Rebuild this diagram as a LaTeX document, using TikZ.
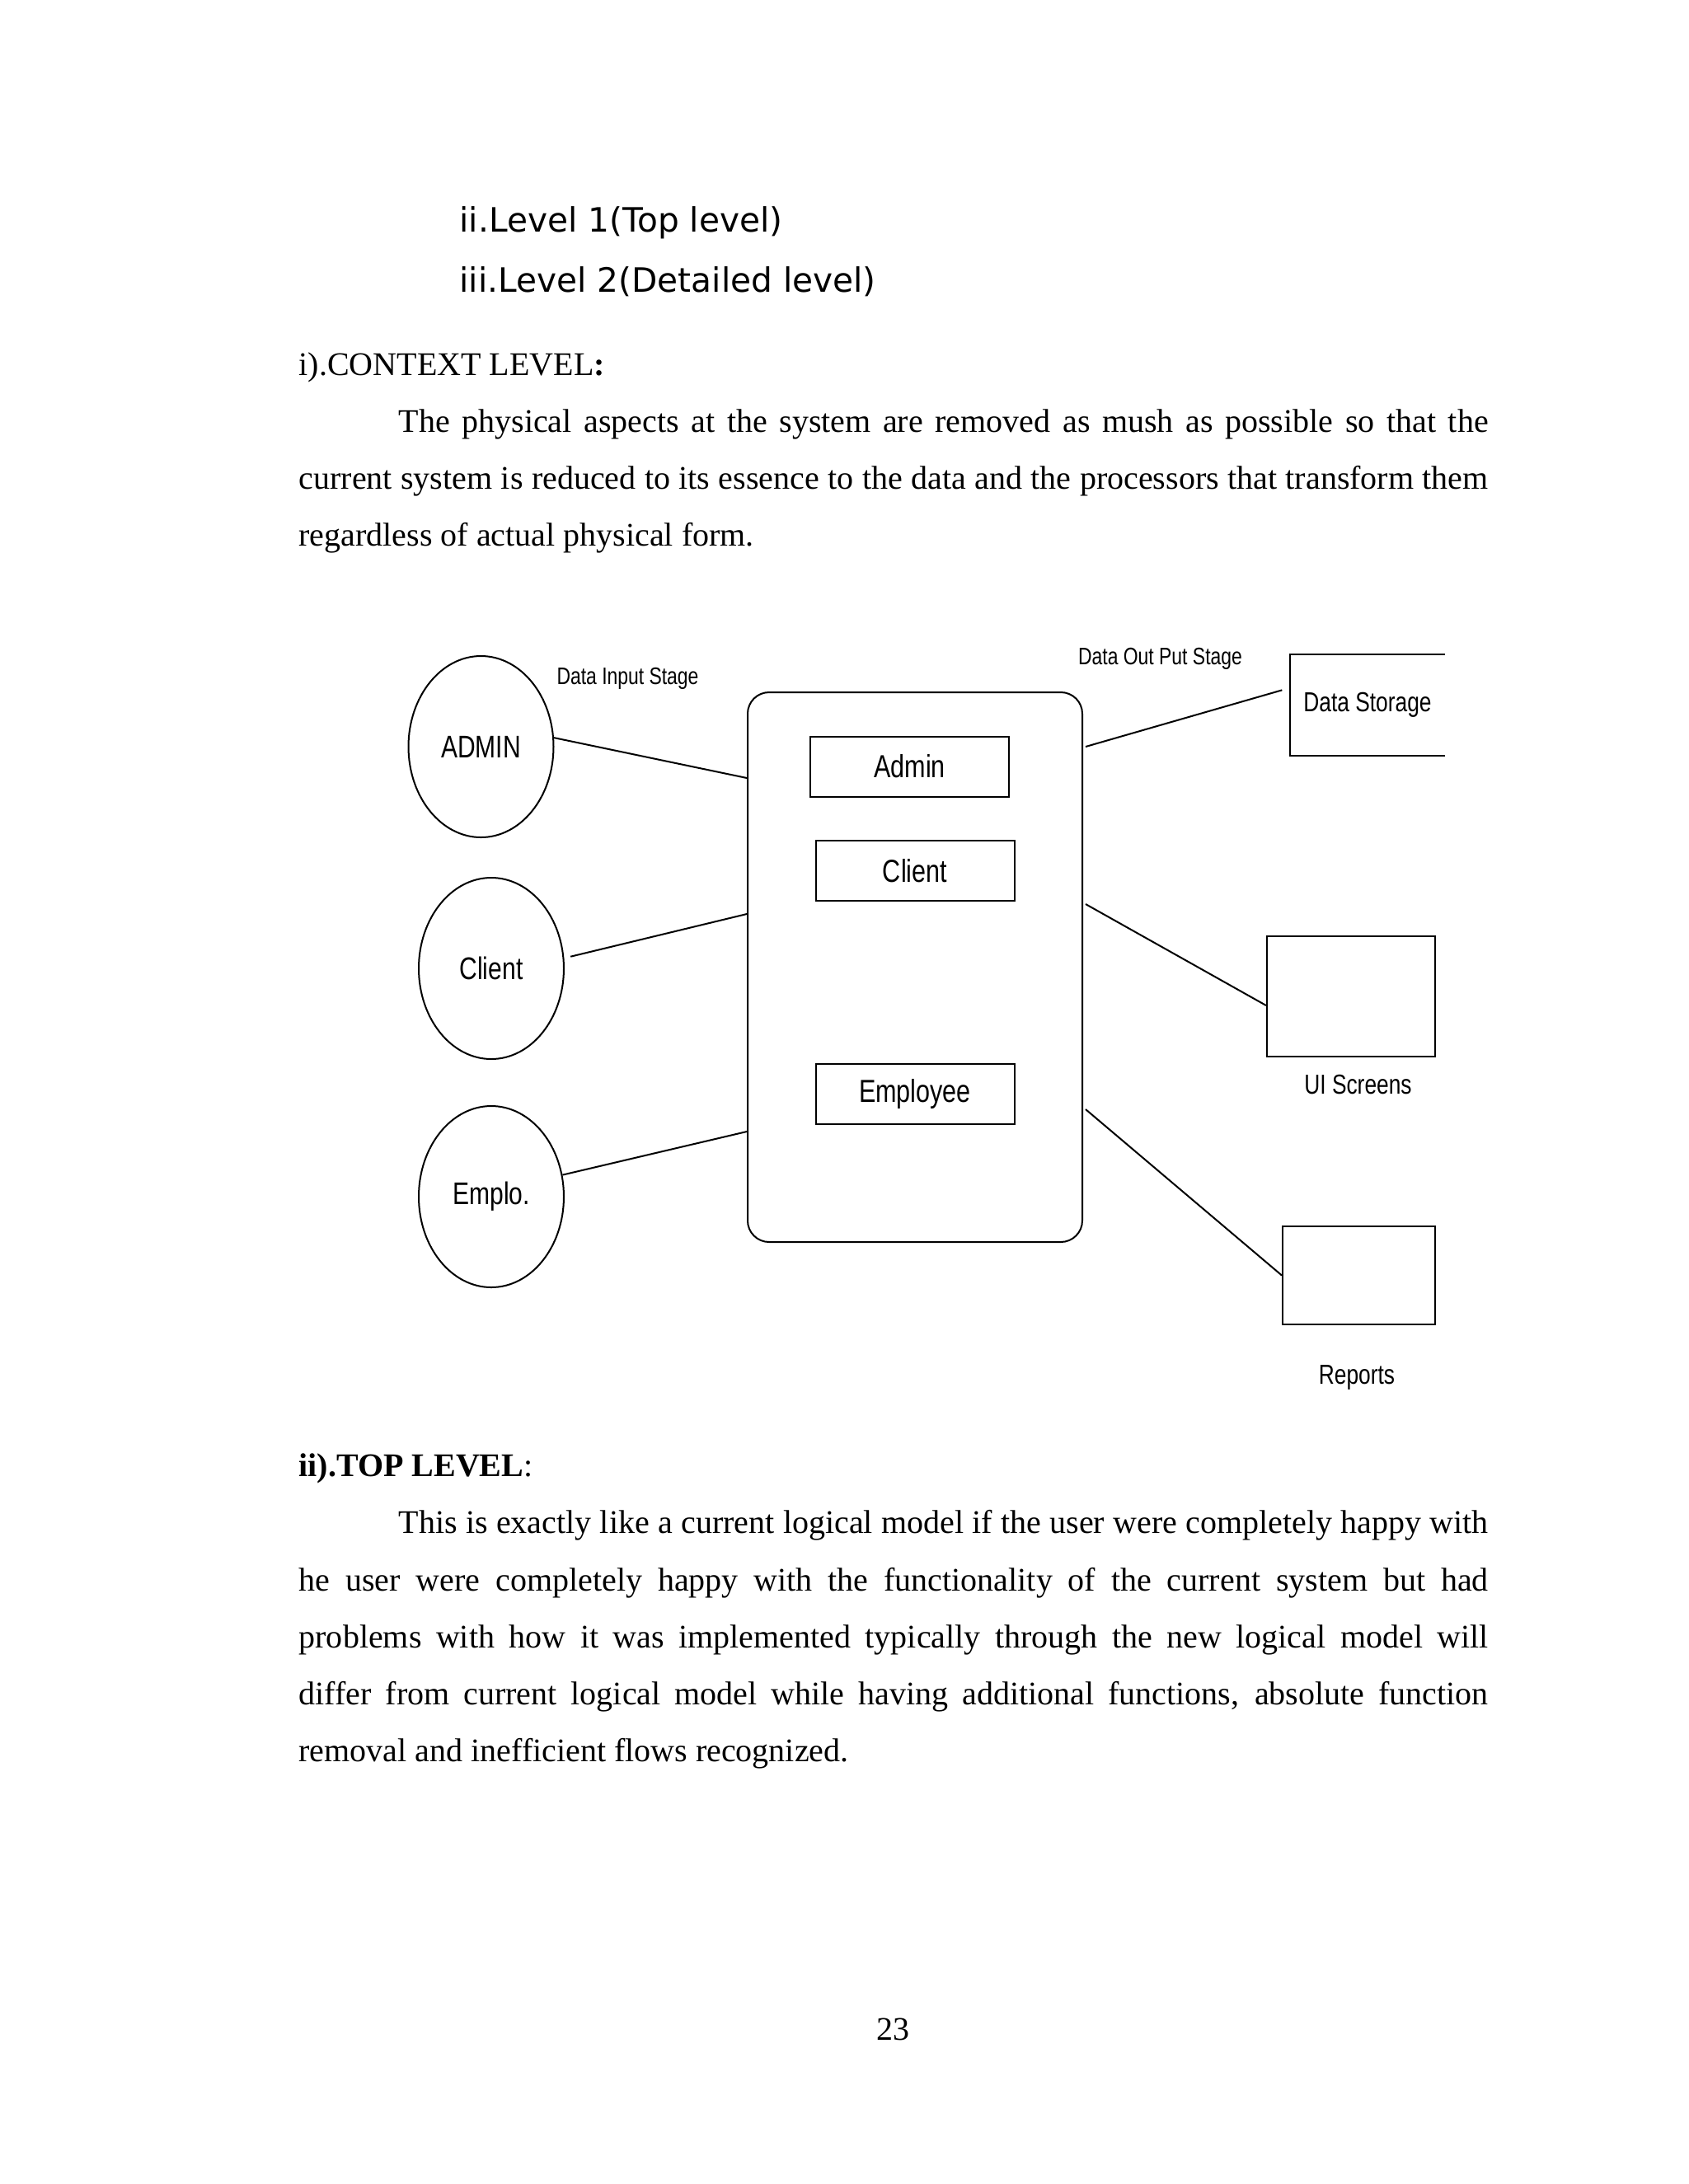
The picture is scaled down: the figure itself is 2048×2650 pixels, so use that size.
\documentclass[tikz,border=0pt]{standalone}
\usepackage{fontspec}
\setmainfont{Liberation Serif}
\newfontfamily\verdfont{DejaVu Sans}
\newfontfamily\diafont[FakeStretch=0.79]{Liberation Sans}
\usetikzlibrary{shapes.geometric}
\usetikzlibrary{calc}
\newlength{\px}
\setlength{\px}{0.0041504in}
\newcommand{\jline}[2]{\makebox[#1\px][s]{#2}}
\tikzset{
	body/.style={anchor=base west, inner sep=0pt, font=\fontsize{12}{14}\selectfont},
	actor/.style={draw, ellipse, line width=0.6pt, minimum width=176\px, minimum height=220\px, inner sep=0pt, font=\diafont\fontsize{11.4}{13}\selectfont},
	unitbox/.style={draw, line width=0.6pt, minimum width=241\px, minimum height=73\px, inner sep=0pt, font=\diafont\fontsize{11.6}{13}\selectfont},
	sinkbox/.style={draw, line width=0.6pt, inner sep=0pt},
	lab/.style={anchor=base, inner sep=0pt, font=\diafont\fontsize{10}{12}\selectfont},
	stagelab/.style={anchor=base, inner sep=0pt, font=\diafont\fontsize{8.7}{10}\selectfont},
	flow/.style={line width=0.6pt}
}

\begin{document}
\begin{tikzpicture}[x=0.0041504in, y=-0.0041504in]
\useasboundingbox (0,0) rectangle (2048,2650);
\fill[white] (0,0) rectangle (2048,2650);

\node[body, font=\verdfont\fontsize{12.2}{14}\selectfont] (lvone) at (557,281) {ii.Level 1(Top level)};
\node[body, font=\verdfont\fontsize{12.2}{14}\selectfont] (lvtwo) at (557,354) {iii.Level 2(Detailed level)};

\node[body] (ctxhead) at (362,455) {i).CONTEXT LEVEL\textbf{:}};
\node[body] (ctxa) at (483,524) {\jline{1322}{The physical aspects at the system are removed as mush as possible so that the}};
\node[body] (ctxb) at (362,593) {\jline{1443}{current system is reduced to its essence to the data and the processors that transform them}};
\node[body] (ctxc) at (362,662) {regardless of actual physical form.};

\node[actor] (admin) at (583.5,906) {ADMIN};
\node[actor] (client) at (596,1175) {Client};
\node[actor] (emplo) at (596,1452) {Emplo.};
\node[stagelab] (inlab) at (761.5,830) {Data Input Stage};

\node[draw, line width=0.6pt, rounded corners=26\px, minimum width=406\px, minimum height=667\px] (sys) at (1110,1173.5) {};
\node[unitbox] (uadmin) at (1103.5,930) {Admin};
\node[unitbox] (uclient) at (1110,1056.5) {Client};
\node[unitbox] (uemp) at (1110,1327.5) {Employee};

\node[stagelab] (outlab) at (1407.5,806) {Data Out Put Stage};
\node[inner sep=0pt, minimum width=186\px, minimum height=121\px, font=\diafont\fontsize{10}{12}\selectfont] (store) at (1659,855.5) {Data Storage};
\draw[flow] (store.north east) -- (store.north west) -- (store.south west) -- (store.south east);
\node[sinkbox, minimum width=204\px, minimum height=146\px] (ui) at (1639,1209) {};
\node[lab] (uilab) at (1647.5,1327) {UI Screens};
\node[sinkbox, minimum width=185\px, minimum height=119\px] (reports) at (1648.5,1547.5) {};
\node[lab] (replab) at (1646,1679) {Reports};

\draw[flow] (admin.7) -- ($(sys.north west)+(0,105)$);
\draw[flow, shorten <=8\px] (client.8) -- ($(sys.north west)+(0,270)$);
\draw[flow] (emplo.17) -- ($(sys.north west)+(0,534)$);

\draw[flow] ($(sys.north east)+(3,67)$) -- ($(store.north west)+(-10,43)$);
\draw[flow] ($(sys.north east)+(3,258)$) -- ($(ui.west)+(0,11)$);
\draw[flow] ($(sys.north east)+(3,507)$) -- (reports.west);

\node[body] (tophead) at (362,1791) {\textbf{ii).TOP LEVEL}:};
\node[body] (topa) at (483,1860) {\jline{1322}{This is exactly like a current logical model if the user were completely happy with}};
\node[body] (topb) at (362,1930) {\jline{1443}{he user were completely happy with the functionality of the current system but had}};
\node[body] (topc) at (362,1999) {\jline{1443}{problems with how it was implemented typically through the new logical model will}};
\node[body] (topd) at (362,2068) {\jline{1443}{differ from current logical model while having additional functions, absolute function}};
\node[body] (tope) at (362,2137) {removal and inefficient flows recognized.};

\node[body, anchor=base] (pageno) at (1083.5,2475) {23};
\end{tikzpicture}
\end{document}
